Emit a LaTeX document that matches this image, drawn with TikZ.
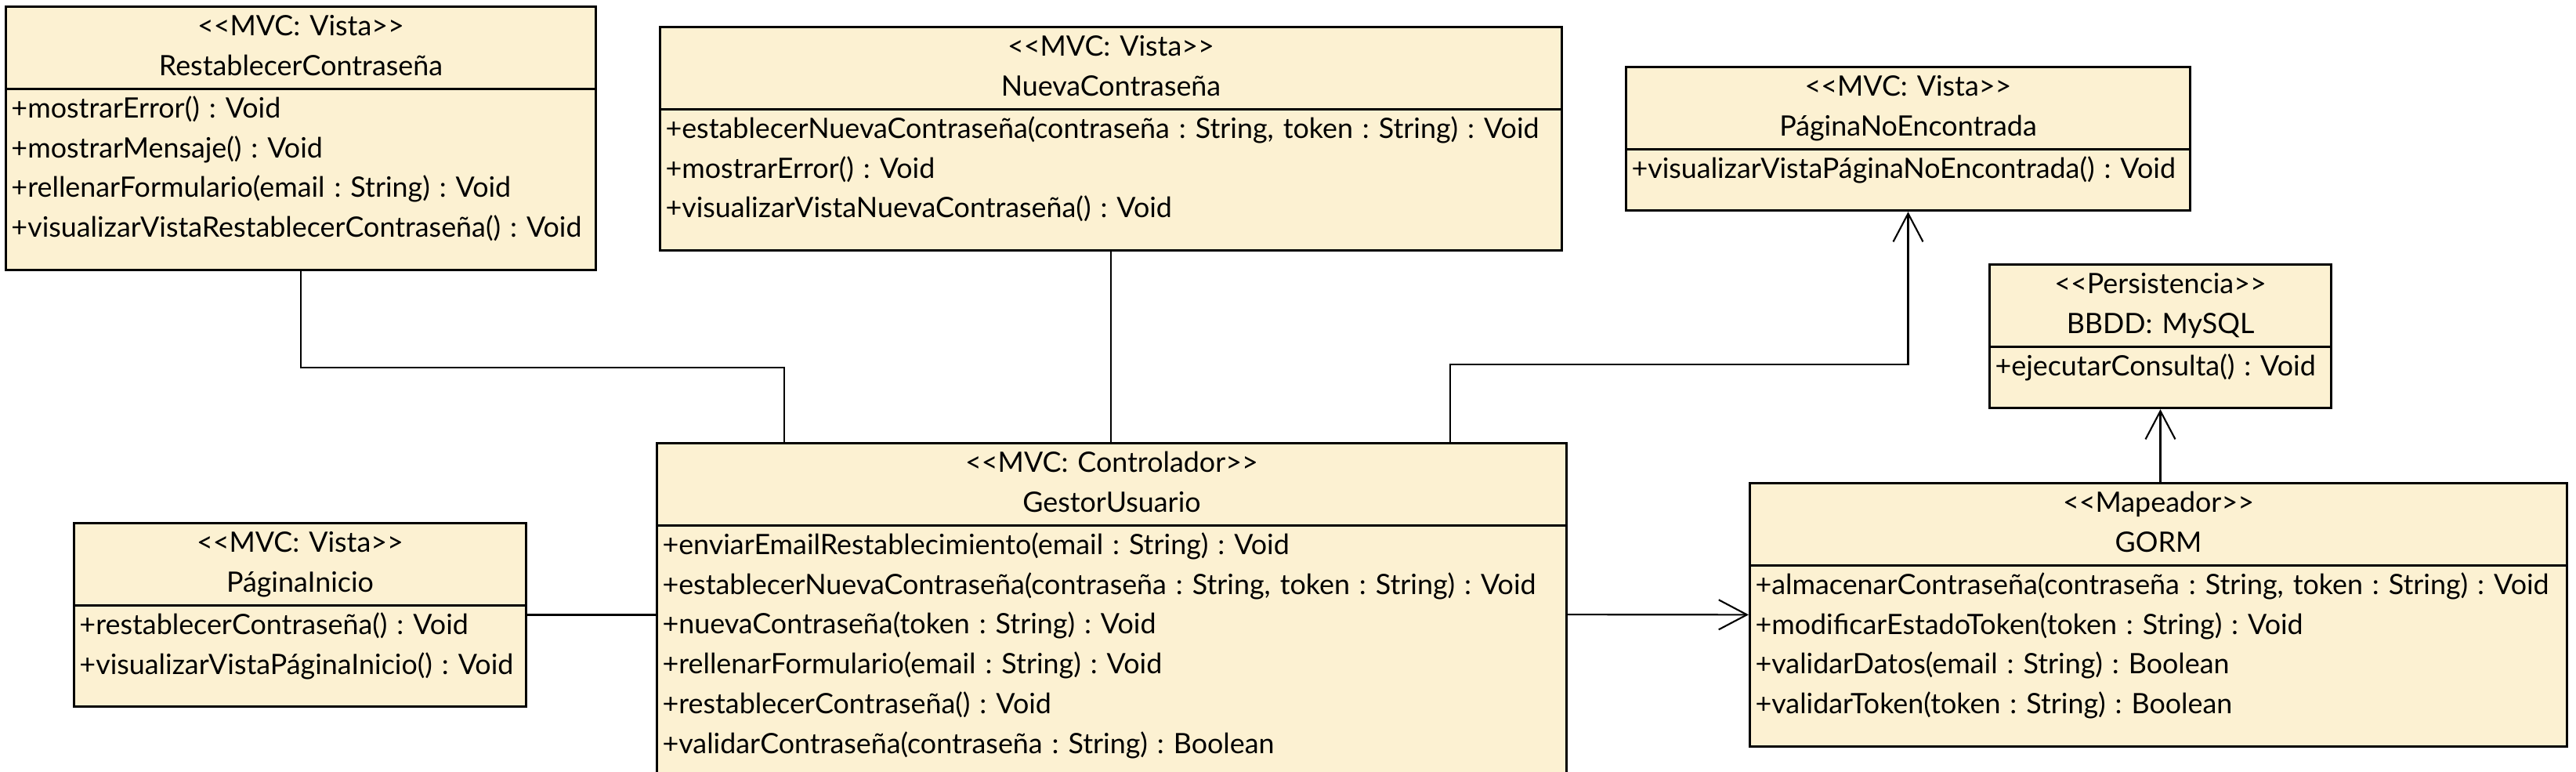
\documentclass[tikz,border=0pt]{standalone}
\usepackage{fontspec}
\setmainfont{Lato}
\usetikzlibrary{arrows.meta,shapes.multipart}
\definecolor{classfill}{RGB}{252,241,210}
\newcommand{\classgap}{\vrule width 0pt height 0pt depth 0.4cm}
\frenchspacing

\begin{document}
\begin{tikzpicture}[
	font=\fontsize{10.2}{14.46}\selectfont,
	classbox/.style={rectangle split, rectangle split parts=2, draw=black, fill=classfill, line width=0.85pt, anchor=north west, inner xsep=0.07cm, inner ysep=0pt, align=left},
	link/.style={line width=0.6pt, draw=black},
	navlink/.style={link, -{Straight Barb[length=3.6mm, width=3.8mm]}}
]
\useasboundingbox (0,0) rectangle (32.88,-9.84);

% Vistas around the controller.
\node[classbox, text width=7.39cm] (restablecer) at (0.06,-0.07) {\centering\strut <{}<MVC: Vista>{}>\par RestablecerContraseña\strut\par
	\nodepart{two}\strut +mostrarError() : Void\\+mostrarMensaje() : Void\\+rellenarFormulario(email : String) : Void\\+visualizarVistaRestablecerContraseña() : Void\classgap};
\node[classbox, text width=11.37cm] (nueva) at (8.41,-0.33) {\centering\strut <{}<MVC: Vista>{}>\par NuevaContraseña\strut\par
	\nodepart{two}\strut +establecerNuevaContraseña(contraseña : String, token : String) : Void\\+mostrarError() : Void\\+visualizarVistaNuevaContraseña() : Void\classgap};
\node[classbox, text width=7.06cm] (noencontrada) at (20.74,-0.84) {\centering\strut <{}<MVC: Vista>{}>\par PáginaNoEncontrada\strut\par
	\nodepart{two}\strut +visualizarVistaPáginaNoEncontrada() : Void\classgap};
\node[classbox, text width=5.63cm] (inicio) at (0.93,-6.66) {\centering\strut <{}<MVC: Vista>{}>\par PáginaInicio\strut\par
	\nodepart{two}\strut +restablecerContraseña() : Void\\+visualizarVistaPáginaInicio() : Void\classgap};
\node[classbox, text width=11.47cm] (gestor) at (8.37,-5.64) {\centering\strut <{}<MVC: Controlador>{}>\par GestorUsuario\strut\par
	\nodepart{two}\strut +enviarEmailRestablecimiento(email : String) : Void\\+establecerNuevaContraseña(contraseña : String, token : String) : Void\\+nuevaContraseña(token : String) : Void\\+rellenarFormulario(email : String) : Void\\+restablecerContraseña() : Void\\+validarContraseña(contraseña : String) : Boolean\classgap};

% Persistence side.
\node[classbox, text width=4.22cm] (persistencia) at (25.38,-3.36) {\centering\strut <{}<Persistencia>{}>\par BBDD: MySQL\strut\par
	\nodepart{two}\strut +ejecutarConsulta() : Void\classgap};
\node[classbox, text width=10.29cm] (gorm) at (22.32,-6.15) {\centering\strut <{}<Mapeador>{}>\par GORM\strut\par
	\nodepart{two}\strut +almacenarContraseña(contraseña : String, token : String) : Void\\+modificarEstadoToken(token : String) : Void\\+validarDatos(email : String) : Boolean\\+validarToken(token : String) : Boolean\classgap};

\draw[link] (restablecer.south) -- ++(0,-1.23) -| ([xshift=1.64cm]gestor.north west);
\draw[link] (nueva.south) -- (nueva.south |- gestor.north);
\draw[navlink] ([xshift=-1.5cm]gestor.north east) -- ++(0,0.99) -| (noencontrada.south);
\draw[link] (inicio.east) -- (inicio.east -| gestor.west);
\draw[navlink] (gestor.east) -- (gorm.west);
\draw[navlink] (persistencia.south |- gorm.north) -- (persistencia.south);

\end{tikzpicture}
\end{document}
